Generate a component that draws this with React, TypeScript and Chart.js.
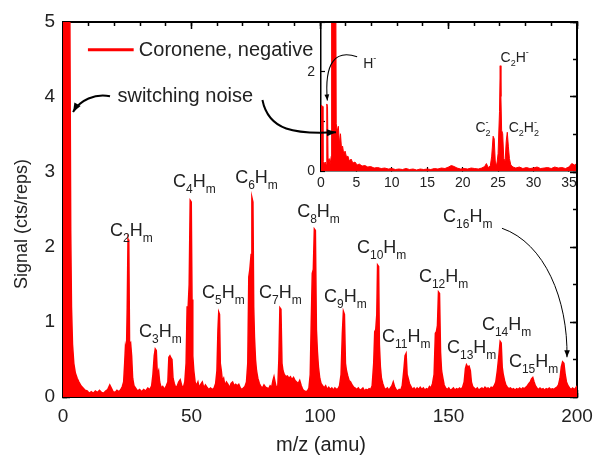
import React, { useEffect, useRef } from 'react';
import { Chart, registerables } from 'chart.js';
Chart.register(...registerables);

const FONT = '"Liberation Sans", Arial, sans-serif';
const RED = 'rgb(255,0,0)';
const INK = '#222';

// ---- main spectrum (m/z in amu, signal in cts/reps) ----
const mainMz = [
  0, 0.3, 2.6, 3.0, 3.3, 3.7, 4.2, 4.8, 5.5, 6.2, 7.0, 7.8, 8.6, 9.4, 10.2, 11.0, 11.8, 12.6, 13.4, 14.2,
  15.0, 15.8, 16.6, 17.4, 18.2, 18.8, 19.5, 20.3, 21.0, 21.8, 22.5, 23.1, 23.6, 24.0, 24.3, 24.7, 25.0, 25.3, 25.6, 25.9,
  26.3, 26.7, 27.1, 27.6, 28.2, 29.0, 29.8, 30.6, 31.4, 32.2, 33.0, 33.8, 34.5, 35.0, 35.5, 35.9, 36.3, 36.7, 37.2, 37.6,
  38.2, 38.8, 39.5, 40.2, 40.8, 41.2, 41.6, 42.0, 42.4, 42.8, 43.3, 43.9, 44.5, 45.0, 45.6, 46.2, 46.8, 47.4, 47.9, 48.3,
  48.7, 49.1, 49.5, 49.9, 50.2, 50.5, 50.9, 51.4, 51.9, 52.5, 53.0, 53.6, 54.2, 54.8, 55.4, 56.0, 56.7, 57.4, 58.1, 58.8,
  59.4, 59.9, 60.3, 60.6, 60.9, 61.2, 61.6, 62.0, 62.5, 63.0, 63.6, 64.2, 64.8, 65.4, 66.0, 66.6, 67.2, 67.8, 68.4, 69.0,
  69.6, 70.2, 70.8, 71.4, 71.9, 72.3, 72.7, 73.2, 73.5, 73.9, 74.2, 74.5, 74.9, 75.3, 75.8, 76.4, 77.0, 77.6, 78.2, 78.8,
  79.4, 80.0, 80.6, 81.2, 81.7, 82.1, 82.5, 83.0, 83.6, 84.0, 84.4, 84.8, 85.2, 85.6, 86.1, 86.7, 87.3, 87.9, 88.5, 89.1,
  89.7, 90.3, 90.9, 91.5, 92.1, 92.7, 93.3, 93.9, 94.5, 95.1, 95.7, 96.2, 96.6, 97.0, 97.4, 97.8, 98.2, 98.6, 99.0, 99.4,
  99.9, 100.4, 101.0, 101.6, 102.2, 102.8, 103.4, 104.0, 104.6, 105.2, 105.8, 106.4, 107.0, 107.6, 108.2, 108.7, 109.1, 109.5, 109.9, 110.3,
  110.8, 111.3, 111.9, 112.5, 113.1, 113.7, 114.3, 114.9, 115.5, 116.1, 116.7, 117.3, 117.9, 118.5, 119.1, 119.7, 120.3, 120.9, 121.3, 121.7,
  122.1, 122.4, 122.8, 123.1, 123.5, 123.9, 124.4, 125.0, 125.6, 126.2, 126.8, 127.4, 128.0, 128.5, 129.0, 129.6, 130.2, 130.8, 131.4, 132.0,
  132.6, 133.1, 133.5, 133.9, 134.3, 134.8, 135.4, 136.0, 136.6, 137.2, 137.8, 138.4, 139.0, 139.6, 140.2, 140.8, 141.4, 142.0, 142.6, 143.2,
  143.8, 144.4, 144.9, 145.3, 145.7, 146.1, 146.5, 146.9, 147.3, 147.8, 148.3, 148.9, 149.5, 150.1, 150.7, 151.3, 151.9, 152.5, 153.1, 153.7,
  154.3, 154.9, 155.5, 156.1, 156.6, 157.0, 157.5, 158.0, 158.5, 158.9, 159.4, 160.0, 160.6, 161.2, 161.8, 162.4, 163.0, 163.6, 164.2, 164.8,
  165.4, 166.0, 166.6, 167.2, 167.8, 168.4, 169.0, 169.6, 170.1, 170.5, 170.9, 171.3, 171.8, 172.3, 172.9, 173.5, 174.1, 174.7, 175.3, 175.9,
  176.5, 177.1, 177.7, 178.3, 178.9, 179.5, 180.1, 180.7, 181.3, 181.8, 182.3, 182.8, 183.3, 183.8, 184.4, 185.0, 185.6, 186.2, 186.8, 187.4,
  188.0, 188.6, 189.2, 189.8, 190.4, 191.0, 191.6, 192.2, 192.8, 193.4, 193.9, 194.4, 194.9, 195.4, 195.9, 196.5, 197.1, 197.7, 198.3, 198.9,
  199.5, 200
];
const mainSignal = [
  1.7, 5.6, 5.6, 2.2, 1.2, 0.7, 0.45, 0.32, 0.25, 0.2, 0.15, 0.12, 0.09, 0.08, 0.05, 0.07, 0.05, 0.08, 0.06, 0.09,
  0.06, 0.05, 0.08, 0.1, 0.16, 0.12, 0.07, 0.06, 0.09, 0.07, 0.1, 0.14, 0.2, 0.45, 0.67, 0.6, 1.2, 2.1, 2.05, 0.7,
  0.72, 0.55, 0.25, 0.15, 0.12, 0.08, 0.1, 0.07, 0.1, 0.08, 0.12, 0.1, 0.15, 0.3, 0.55, 0.64, 0.62, 0.3, 0.35, 0.2,
  0.12, 0.14, 0.1, 0.15, 0.2, 0.53, 0.55, 0.52, 0.5, 0.25, 0.18, 0.12, 0.15, 0.2, 0.23, 0.15, 0.12, 0.2, 0.45, 1.2,
  1.2, 1.5, 2.62, 2.6, 1.3, 0.55, 0.35, 0.2, 0.15, 0.2, 0.12, 0.17, 0.2, 0.12, 0.16, 0.13, 0.1, 0.12, 0.1, 0.12,
  0.18, 0.35, 0.9, 1.13, 1.1, 0.45, 0.35, 0.22, 0.25, 0.15, 0.2, 0.17, 0.12, 0.18, 0.2, 0.15, 0.17, 0.15, 0.17, 0.12,
  0.1, 0.12, 0.14, 0.2, 0.45, 1.6, 1.7, 1.9, 2.66, 2.6, 1.2, 0.8, 0.5, 0.35, 0.25, 0.18, 0.14, 0.12, 0.16, 0.13,
  0.12, 0.11, 0.15, 0.13, 0.22, 0.27, 0.2, 0.12, 0.15, 0.5, 1.19, 1.17, 0.45, 0.35, 0.3, 0.27, 0.28, 0.25, 0.27, 0.23,
  0.26, 0.22, 0.2, 0.18, 0.22, 0.15, 0.1, 0.08, 0.07, 0.08, 0.12, 0.3, 1.0, 1.65, 1.7, 2.24, 2.22, 0.9, 0.6, 0.4,
  0.25, 0.18, 0.15, 0.12, 0.15, 0.1, 0.13, 0.1, 0.12, 0.09, 0.12, 0.1, 0.11, 0.15, 0.3, 0.85, 1.14, 1.1, 0.45, 0.35,
  0.28, 0.22, 0.2, 0.16, 0.13, 0.12, 0.1, 0.12, 0.09, 0.1, 0.12, 0.08, 0.1, 0.09, 0.11, 0.1, 0.15, 0.45, 0.87, 0.9,
  1.1, 1.76, 1.74, 0.7, 0.4, 0.25, 0.18, 0.12, 0.1, 0.12, 0.09, 0.12, 0.15, 0.2, 0.14, 0.1, 0.08, 0.1, 0.09, 0.15,
  0.35, 0.55, 0.58, 0.3, 0.25, 0.18, 0.14, 0.1, 0.12, 0.09, 0.12, 0.1, 0.13, 0.1, 0.12, 0.09, 0.11, 0.1, 0.14, 0.12,
  0.18, 0.3, 0.85, 0.87, 0.95, 1.4, 1.38, 0.6, 0.35, 0.25, 0.16, 0.12, 0.1, 0.12, 0.09, 0.1, 0.12, 0.09, 0.11, 0.1,
  0.12, 0.1, 0.13, 0.2, 0.38, 0.43, 0.4, 0.41, 0.35, 0.2, 0.14, 0.12, 0.1, 0.12, 0.09, 0.11, 0.12, 0.1, 0.13, 0.11,
  0.12, 0.1, 0.13, 0.12, 0.15, 0.2, 0.35, 0.55, 0.74, 0.72, 0.4, 0.3, 0.22, 0.16, 0.13, 0.11, 0.12, 0.1, 0.11, 0.09,
  0.11, 0.1, 0.12, 0.1, 0.12, 0.11, 0.13, 0.15, 0.18, 0.2, 0.24, 0.26, 0.2, 0.15, 0.12, 0.1, 0.12, 0.1, 0.11, 0.09,
  0.11, 0.1, 0.12, 0.1, 0.11, 0.1, 0.12, 0.13, 0.16, 0.25, 0.4, 0.47, 0.45, 0.3, 0.2, 0.15, 0.12, 0.1, 0.12, 0.1,
  0.12, 0.15
];

// ---- inset spectrum ----
const insetMz = [
  0, 0.05, 0.2, 0.28, 0.45, 0.6, 0.75, 0.82, 0.92, 1.0, 1.15, 1.3, 1.45, 1.5, 2.1, 2.15, 2.3, 2.45, 2.6, 2.75,
  2.9, 3.05, 3.2, 3.4, 3.6, 3.8, 4.0, 4.25, 4.5, 4.8, 5.1, 5.4, 5.8, 6.2, 6.6, 7.0, 7.5, 8.0, 8.5, 9.0,
  9.5, 10.0, 10.5, 11.0, 11.5, 12.0, 12.5, 13.0, 13.5, 14.0, 14.5, 15.0, 15.5, 16.0, 16.5, 17.0, 17.5, 18.0, 18.4, 18.8,
  19.2, 19.7, 20.2, 20.7, 21.2, 21.7, 22.2, 22.7, 23.1, 23.35, 23.6, 23.9, 24.1, 24.3, 24.45, 24.6, 24.8, 25.0, 25.2, 25.3,
  25.4, 25.5, 25.65, 25.8, 26.0, 26.15, 26.3, 26.45, 26.6, 26.8, 27.1, 27.5, 28.0, 28.5, 29.0, 29.5, 30.0, 30.5, 31.0, 31.5,
  32.0, 32.5, 33.0, 33.5, 34.0, 34.5, 35.0, 35.4, 35.8, 36
];
const insetSignal = [
  0.3, 1.33, 1.3, 0.2, 0.15, 0.18, 0.12, 1.35, 1.3, 0.2, 0.25, 0.15, 0.3, 3.3, 3.3, 0.95, 0.8, 0.9, 0.55, 0.75,
  0.45, 0.5, 0.35, 0.4, 0.28, 0.3, 0.2, 0.24, 0.16, 0.18, 0.12, 0.14, 0.1, 0.11, 0.08, 0.09, 0.06, 0.07, 0.05, 0.06,
  0.04, 0.05, 0.03, 0.04, 0.03, 0.05, 0.03, 0.04, 0.02, 0.04, 0.03, 0.04, 0.03, 0.05, 0.04, 0.06, 0.05, 0.08, 0.11, 0.09,
  0.06, 0.04, 0.05, 0.04, 0.06, 0.05, 0.04, 0.06, 0.09, 0.15, 0.07, 0.1, 0.3, 0.7, 0.65, 0.2, 0.1, 0.35, 1.2, 2.12,
  1.5, 0.82, 0.75, 0.25, 0.2, 0.6, 0.78, 0.5, 0.25, 0.12, 0.08, 0.06, 0.08, 0.05, 0.07, 0.05, 0.06, 0.08, 0.05, 0.06,
  0.07, 0.05, 0.08, 0.06, 0.07, 0.05, 0.08, 0.15, 0.12, 0.14
];

// ---- ticks ----
const mainXTicks = [0, 50, 100, 150, 200];
const mainXMinorTicks = [0, 10, 20, 30, 40, 50, 60, 70, 80, 90, 100, 110, 120, 130, 140, 150, 160, 170, 180, 190, 200];
const mainYTicks = [0, 1, 2, 3, 4, 5];
const mainYMinorTicks = [0, 0.5, 1, 1.5, 2, 2.5, 3, 3.5, 4, 4.5, 5];
const insetXTicks = [0, 5, 10, 15, 20, 25, 30, 35];
const insetYTicks = [0, 2];
const insetYTickMarks = [0, 1, 2, 3];

type Part = [string, 'n' | 's' | 'u' | 'su'];
// fragment labels anchored in (m/z, signal)
const fragmentLabels: { mz: number; v: number; parts: Part[] }[] = [
  { mz: 18.3, v: 2.15, parts: [['C', 'n'], ['2', 's'], ['H', 'n'], ['m', 's']] },
  { mz: 29.6, v: 0.8, parts: [['C', 'n'], ['3', 's'], ['H', 'n'], ['m', 's']] },
  { mz: 42.8, v: 2.8, parts: [['C', 'n'], ['4', 's'], ['H', 'n'], ['m', 's']] },
  { mz: 54.1, v: 1.32, parts: [['C', 'n'], ['5', 's'], ['H', 'n'], ['m', 's']] },
  { mz: 67.0, v: 2.85, parts: [['C', 'n'], ['6', 's'], ['H', 'n'], ['m', 's']] },
  { mz: 76.3, v: 1.32, parts: [['C', 'n'], ['7', 's'], ['H', 'n'], ['m', 's']] },
  { mz: 91.1, v: 2.4, parts: [['C', 'n'], ['8', 's'], ['H', 'n'], ['m', 's']] },
  { mz: 101.6, v: 1.27, parts: [['C', 'n'], ['9', 's'], ['H', 'n'], ['m', 's']] },
  { mz: 114.4, v: 1.92, parts: [['C', 'n'], ['10', 's'], ['H', 'n'], ['m', 's']] },
  { mz: 124.1, v: 0.73, parts: [['C', 'n'], ['11', 's'], ['H', 'n'], ['m', 's']] },
  { mz: 138.5, v: 1.53, parts: [['C', 'n'], ['12', 's'], ['H', 'n'], ['m', 's']] },
  { mz: 149.4, v: 0.59, parts: [['C', 'n'], ['13', 's'], ['H', 'n'], ['m', 's']] },
  { mz: 163.0, v: 0.89, parts: [['C', 'n'], ['14', 's'], ['H', 'n'], ['m', 's']] },
  { mz: 173.5, v: 0.4, parts: [['C', 'n'], ['15', 's'], ['H', 'n'], ['m', 's']] },
  { mz: 147.9, v: 2.33, parts: [['C', 'n'], ['16', 's'], ['H', 'n'], ['m', 's']] },
];
const insetLabels: { mz: number; v: number; parts: Part[] }[] = [
  { mz: 5.95, v: 2.08, parts: [['H', 'n'], ['-', 'u']] },
  { mz: 25.35, v: 2.2, parts: [['C', 'n'], ['2', 's'], ['H', 'n'], ['-', 'u']] },
  { mz: 21.8, v: 0.79, parts: [['C', 'n'], ['2|-', 'su']] },
  { mz: 26.5, v: 0.79, parts: [['C', 'n'], ['2', 's'], ['H', 'n'], ['2|-', 'su']] },
];

function drawParts(ctx: CanvasRenderingContext2D, x: number, y: number, parts: Part[], size: number) {
  let cx = x;
  const small = Math.round(size * 0.66);
  ctx.textAlign = 'left';
  ctx.textBaseline = 'alphabetic';
  for (const [t, k] of parts) {
    if (k === 'n') {
      ctx.font = `${size}px ${FONT}`;
      ctx.fillText(t, cx, y);
      cx += ctx.measureText(t).width;
    } else if (k === 's') {
      ctx.font = `${small}px ${FONT}`;
      ctx.fillText(t, cx, y + size * 0.33);
      cx += ctx.measureText(t).width;
    } else if (k === 'u') {
      ctx.font = `${small}px ${FONT}`;
      ctx.fillText(t, cx, y - size * 0.45);
      cx += ctx.measureText(t).width;
    } else {
      const [sb, sp] = t.split('|');
      ctx.font = `${small}px ${FONT}`;
      ctx.fillText(sb, cx, y + size * 0.33);
      ctx.fillText(sp, cx, y - size * 0.45);
      cx += Math.max(ctx.measureText(sb).width, ctx.measureText(sp).width);
    }
  }
}

function arrow(ctx: CanvasRenderingContext2D, p: number[], width: number, head: number) {
  const [x0, y0, c1x, c1y, c2x, c2y, x1, y1] = p;
  ctx.lineWidth = width;
  ctx.beginPath();
  ctx.moveTo(x0, y0);
  ctx.bezierCurveTo(c1x, c1y, c2x, c2y, x1, y1);
  ctx.stroke();
  const a = Math.atan2(y1 - c2y, x1 - c2x);
  ctx.beginPath();
  ctx.moveTo(x1, y1);
  ctx.lineTo(x1 - head * Math.cos(a) + head * 0.4 * Math.sin(a), y1 - head * Math.sin(a) - head * 0.4 * Math.cos(a));
  ctx.lineTo(x1 - head * Math.cos(a) - head * 0.4 * Math.sin(a), y1 - head * Math.sin(a) + head * 0.4 * Math.cos(a));
  ctx.closePath();
  ctx.fill();
}

const mainDecor = {
  id: 'mainDecor',
  afterDraw(chart: any) {
    const ctx: CanvasRenderingContext2D = chart.ctx;
    const xs = chart.scales.x, ys = chart.scales.y;
    const X = (v: number) => xs.getPixelForValue(v);
    const Y = (v: number) => ys.getPixelForValue(v);
    ctx.save();
    ctx.fillStyle = INK;
    for (const l of fragmentLabels) drawParts(ctx, X(l.mz), Y(l.v), l.parts, 18);
    ctx.fillStyle = RED;
    ctx.fillRect(X(9.7), Y(4.63) - 1.5, X(27.5) - X(9.7), 3);
    ctx.fillStyle = INK;
    ctx.font = `20px ${FONT}`;
    ctx.textAlign = 'left';
    ctx.textBaseline = 'alphabetic';
    ctx.fillText('Coronene, negative', X(29.5), Y(4.55));
    ctx.fillText('switching noise', X(21.2), Y(3.93));
    ctx.strokeStyle = '#000';
    ctx.fillStyle = '#000';
    arrow(ctx, [X(18.3), Y(4.01), X(12.5), Y(4.05), X(6.6), Y(3.96), X(3.9), Y(3.8)], 2, 9);
    arrow(ctx, [X(77.6), Y(3.96), X(80.0), Y(3.55), X(90.3), Y(3.5), X(106.2), Y(3.53)], 2, 9);
    arrow(ctx, [X(170.8), Y(2.25), X(187.5), Y(2.05), X(196.5), Y(1.3), X(196.1), Y(0.53)], 1, 7);
    ctx.fillStyle = INK;
    ctx.font = `20px ${FONT}`;
    ctx.textAlign = 'center';
    ctx.fillText('m/z (amu)', 321, 451);
    ctx.translate(22.5, 224);
    ctx.rotate(-Math.PI / 2);
    ctx.font = `18px ${FONT}`;
    ctx.textBaseline = 'middle';
    ctx.fillText('Signal (cts/reps)', 0, 0);
    ctx.restore();
  },
};

const insetDecor = {
  id: 'insetDecor',
  afterDraw(chart: any) {
    const ctx: CanvasRenderingContext2D = chart.ctx;
    const xs = chart.scales.x, ys = chart.scales.y;
    const X = (v: number) => xs.getPixelForValue(v);
    const Y = (v: number) => ys.getPixelForValue(v);
    ctx.save();
    ctx.fillStyle = INK;
    for (const l of insetLabels) drawParts(ctx, X(l.mz), Y(l.v), l.parts, 14);
    ctx.strokeStyle = '#000';
    ctx.fillStyle = '#000';
    arrow(ctx, [X(5.1), Y(2.3), X(2.1), Y(2.45), X(0.42), Y(2.2), X(0.9), Y(1.42)], 1.1, 6);
    ctx.restore();
  },
};

// an axis that only draws a frame edge with inward tick marks (negative tick length)
function frameAxis(position: string, min: number, max: number, values: number[], len: number,
  border: boolean, weight: number, bw: number, tw: number) {
  const horiz = position === 'top' || position === 'bottom';
  return {
    type: 'linear', position, min, max, weight, z: 1,
    afterBuildTicks: (a: any) => { a.ticks = values.map((value) => ({ value })); },
    afterFit: (s: any) => {
      if (horiz) { s.height = 0; s.paddingLeft = 0; s.paddingRight = 0; }
      else { s.width = 0; s.paddingTop = 0; s.paddingBottom = 0; }
    },
    ticks: { display: false, autoSkip: false },
    grid: { display: true, drawOnChartArea: false, drawTicks: true, tickLength: -len, tickColor: '#000', tickWidth: tw },
    border: { display: border, color: '#000', width: bw },
  };
}

export default function App() {
  const mainRef = useRef<HTMLCanvasElement>(null);
  const insetRef = useRef<HTMLCanvasElement>(null);

  useEffect(() => {
    const tickFont = (size: number) => ({ family: FONT, size });
    const inset = new Chart(insetRef.current as HTMLCanvasElement, {
      type: 'line',
      data: {
        datasets: [{
          data: insetMz.map((x, i) => ({ x, y: insetSignal[i] })),
          borderColor: RED, backgroundColor: RED, borderWidth: 1, pointRadius: 0, fill: 'origin', tension: 0,
        }],
      },
      options: {
        animation: false, responsive: false, maintainAspectRatio: false,
        layout: { padding: { top: 12, right: 4, left: 0, bottom: 0 } },
        plugins: { legend: { display: false }, tooltip: { enabled: false } },
        scales: {
          x: {
            type: 'linear', min: 0, max: 36, z: 1,
            afterBuildTicks: (a: any) => { a.ticks = insetXTicks.map((value) => ({ value })); },
            afterFit: (s: any) => { s.height = 39; s.paddingLeft = 0; s.paddingRight = 0; },
            grid: { display: true, drawOnChartArea: false, drawTicks: true, tickLength: -4, tickColor: '#000', tickWidth: 1.2 },
            border: { display: true, color: '#000', width: 1.5 },
            ticks: { font: tickFont(14), color: INK, padding: 8, maxRotation: 0, autoSkip: false },
          },
          y: {
            min: 0, max: 3, z: 1,
            afterBuildTicks: (a: any) => { a.ticks = insetYTickMarks.map((value) => ({ value })); },
            afterFit: (s: any) => { s.width = 41; s.paddingTop = 0; s.paddingBottom = 0; },
            grid: { display: true, drawOnChartArea: false, drawTicks: true, tickLength: -4, tickColor: '#000', tickWidth: 1.2 },
            border: { display: true, color: '#000', width: 1.5 },
            ticks: {
              font: tickFont(14), color: INK, padding: 10,
              callback: (v: number) => (insetYTicks.includes(v) ? String(v) : ''),
            },
          },
        },
      } as any,
      plugins: [insetDecor],
    });

    const main = new Chart(mainRef.current as HTMLCanvasElement, {
      type: 'line',
      data: {
        datasets: [{
          data: mainMz.map((x, i) => ({ x, y: mainSignal[i] })),
          borderColor: RED, backgroundColor: RED, borderWidth: 1.5, pointRadius: 0, fill: 'origin', tension: 0,
        }],
      },
      options: {
        animation: false, responsive: false, maintainAspectRatio: false,
        layout: { padding: { top: 22, right: 17, left: 0, bottom: 0 } },
        plugins: { legend: { display: false }, tooltip: { enabled: false } },
        scales: {
          x: {
            type: 'linear', min: 0, max: 200, z: 1, weight: 0,
            afterBuildTicks: (a: any) => { a.ticks = mainXTicks.map((value) => ({ value })); },
            afterFit: (s: any) => { s.height = 62; s.paddingLeft = 0; s.paddingRight = 0; },
            grid: { display: true, drawOnChartArea: false, drawTicks: true, tickLength: -7, tickColor: '#000', tickWidth: 1.5 },
            border: { display: true, color: '#000', width: 2 },
            ticks: { font: tickFont(19), color: INK, padding: 15, maxRotation: 0, autoSkip: false },
          },
          y: {
            min: 0, max: 5, z: 1, weight: 0,
            afterBuildTicks: (a: any) => { a.ticks = mainYTicks.map((value) => ({ value })); },
            afterFit: (s: any) => { s.width = 63; s.paddingTop = 0; s.paddingBottom = 0; },
            grid: { display: true, drawOnChartArea: false, drawTicks: true, tickLength: -7, tickColor: '#000', tickWidth: 1.5 },
            border: { display: true, color: '#000', width: 2 },
            ticks: { font: tickFont(19), color: INK, padding: 15 },
          },
          xMinor: frameAxis('bottom', 0, 200, mainXMinorTicks, 4, false, -1, 2, 1.5),
          xTop: frameAxis('top', 0, 200, mainXTicks, 7, true, 0, 2, 1.5),
          xTopMinor: frameAxis('top', 0, 200, mainXMinorTicks, 4, false, -1, 2, 1.5),
          yMinor: frameAxis('left', 0, 5, mainYMinorTicks, 4, false, -1, 2, 1.5),
          yRight: frameAxis('right', 0, 5, mainYTicks, 7, true, 0, 2, 1.5),
          yRightMinor: frameAxis('right', 0, 5, mainYMinorTicks, 4, false, -1, 2, 1.5),
        },
      } as any,
      plugins: [mainDecor],
    });

    return () => { main.destroy(); inset.destroy(); };
  }, []);

  const abs = (l: number, t: number, w: number, h: number) =>
    ({ position: 'absolute' as const, left: l, top: t, width: w, height: h });

  return (
    <div style={{ ...abs(0, 0, 594, 459), background: '#fff' }}>
      <canvas ref={insetRef} width={300} height={200} style={abs(280, 10, 300, 200)} />
      <canvas ref={mainRef} width={594} height={459} style={abs(0, 0, 594, 459)} />
    </div>
  );
}
